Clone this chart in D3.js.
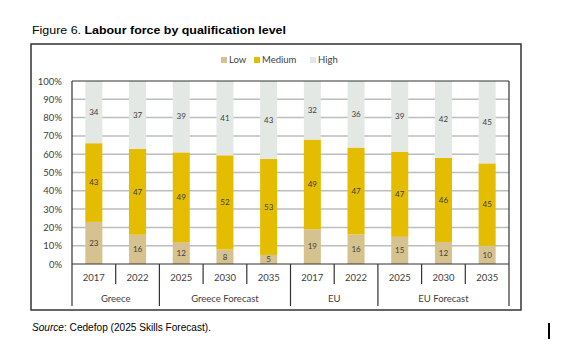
<!DOCTYPE html>
<html><head><meta charset="utf-8">
<script src="https://cdn.jsdelivr.net/npm/d3@7"></script>
<style>body{margin:0;background:#fff}svg{display:block}</style>
</head><body>
<svg id="c" width="562" height="356"></svg>
<script>
const years = ["2017","2022","2025","2030","2035","2017","2022","2025","2030","2035"];
const groups = ["Greece","Greece Forecast","EU","EU Forecast"];
const groupSizes = [2,3,2,3];
const seriesNames = ["Low","Medium","High"];
const low = [23,16,12,8,5,19,16,15,12,10];
const medium = [43,47,49,52,53,49,47,47,46,45];
const high = [34,37,39,41,43,32,36,39,42,45];
const yTicks = [0,10,20,30,40,50,60,70,80,90,100];
const colors = ["#d5c28f","#e4bc00","#e4e8e5"];

const svg = d3.select("#c");
const m = {l:72, r:509, t:81, b:264};

const rows = years.map((y,i)=>({i, Low:low[i], Medium:medium[i], High:high[i]}));
const stack = d3.stack().keys(seriesNames).offset(d3.stackOffsetExpand);
const stacked = stack(rows);

const x = d3.scaleBand().domain(d3.range(years.length)).range([m.l,m.r]).paddingInner(0.61).paddingOuter(0.305);
const y = d3.scaleLinear().domain([0,1]).range([m.b,m.t]);

// title
const t = svg.append("text").attr("x",32).attr("y",33.5).attr("font-family","Liberation Sans, Arial").attr("font-size",11.5).attr("fill","#000")
  .attr("textLength",254).attr("lengthAdjust","spacingAndGlyphs");
t.append("tspan").text("Figure 6. ");
t.append("tspan").attr("font-weight","bold").text("Labour force by qualification level");

// outer box
svg.append("rect").attr("x",31).attr("y",44).attr("width",490).attr("height",266).attr("fill","none").attr("stroke","#333").attr("stroke-width",1.5);

// grid
svg.append("g").selectAll("line").data(yTicks.slice(1,-1)).join("line")
  .attr("x1",m.l).attr("x2",m.r).attr("y1",d=>y(d/100)).attr("y2",d=>y(d/100))
  .attr("stroke","#bdbdbd").attr("stroke-width",1.5);

// bars
svg.append("g").selectAll("g").data(stacked).join("g").attr("fill",(d,i)=>colors[i])
  .selectAll("rect").data(d=>d).join("rect")
  .attr("x",(d,i)=>x(i)).attr("width",x.bandwidth())
  .attr("y",d=>y(d[1])).attr("height",d=>y(d[0])-y(d[1]));

// value labels
const vals = [low,medium,high];
svg.append("g").selectAll("g").data(stacked).join("g")
  .selectAll("text").data((d,si)=>d.map((p,i)=>({p,i,v:vals[si][i]}))).join("text")
  .attr("x",d=>x(d.i)+x.bandwidth()/2).attr("y",d=>(y(d.p[0])+y(d.p[1]))/2)
  .attr("dy","0.35em").attr("text-anchor","middle")
  .attr("font-family","Lato, Carlito, sans-serif").attr("font-size",8).attr("fill","#404040")
  .text(d=>d.v);

// plot border top/right
svg.append("line").attr("x1",m.l).attr("x2",m.r).attr("y1",m.t).attr("y2",m.t).attr("stroke","#333").attr("stroke-width",1.2);
svg.append("line").attr("x1",m.r).attr("x2",m.r).attr("y1",m.t).attr("y2",306).attr("stroke","#333").attr("stroke-width",1.2);

// y axis
const yAxis = d3.axisLeft(y).tickValues(yTicks.map(d=>d/100)).tickFormat(d3.format(".0%")).tickSize(0).tickPadding(10);
const ya = svg.append("g").attr("transform",`translate(${m.l},0)`).call(yAxis);
ya.select(".domain").remove();
ya.selectAll("text").attr("font-family","Lato, Carlito, sans-serif").attr("font-size",9.5).attr("fill","#404040");
svg.append("line").attr("x1",m.l).attr("x2",m.l).attr("y1",m.t).attr("y2",306).attr("stroke","#333").attr("stroke-width",1.2);

// x axis (years)
const xAxis = d3.axisBottom(x).tickFormat(i=>years[i]).tickSize(0).tickPadding(10);
const xa = svg.append("g").attr("transform",`translate(0,${m.b})`).call(xAxis);
xa.select(".domain").remove();
xa.selectAll("text").attr("font-family","Lato, Carlito, sans-serif").attr("font-size",9.5).attr("fill","#404040");
svg.append("line").attr("x1",m.l).attr("x2",m.r).attr("y1",m.b).attr("y2",m.b).attr("stroke","#333").attr("stroke-width",1.2);

// separators
const step = x.step();
const groupStarts = [];
let acc = 0; groupSizes.forEach(s=>{groupStarts.push(acc); acc+=s;});
const boundaries = d3.range(1,years.length);
svg.append("g").selectAll("line").data(boundaries).join("line")
  .attr("x1",i=>m.l+i*step).attr("x2",i=>m.l+i*step)
  .attr("y1",m.b).attr("y2",i=>groupStarts.includes(i)?306:284)
  .attr("stroke","#333").attr("stroke-width",1.2);

// group labels
svg.append("g").selectAll("text").data(groups).join("text")
  .attr("x",(g,k)=>m.l+(groupStarts[k]+groupSizes[k]/2)*step).attr("y",299).attr("dy","0.35em")
  .attr("text-anchor","middle").attr("font-family","Lato, Carlito, sans-serif").attr("font-size",9.5).attr("fill","#404040")
  .text(g=>g);

// legend
const legX = [221,254,310];
const lg = svg.append("g").selectAll("g").data(seriesNames).join("g").attr("transform",(d,i)=>`translate(${legX[i]},60)`);
lg.append("rect").attr("x",0).attr("y",-3).attr("width",6).attr("height",6).attr("fill",(d,i)=>colors[i]);
lg.append("text").attr("x",8).attr("dy","0.35em").attr("font-family","Lato, Carlito, sans-serif").attr("font-size",9.5).attr("fill","#404040").text(d=>d);

// source
const s = svg.append("text").attr("x",32).attr("y",330.5).attr("font-family","Liberation Sans, Arial").attr("font-size",10).attr("fill","#000")
  .attr("textLength",179).attr("lengthAdjust","spacingAndGlyphs");
s.append("tspan").attr("font-style","italic").text("Source");
s.append("tspan").text(": Cedefop (2025 Skills Forecast).");

// cursor mark
svg.append("rect").attr("x",548).attr("y",323).attr("width",2).attr("height",16).attr("fill","#000");
</script>
</body></html>
